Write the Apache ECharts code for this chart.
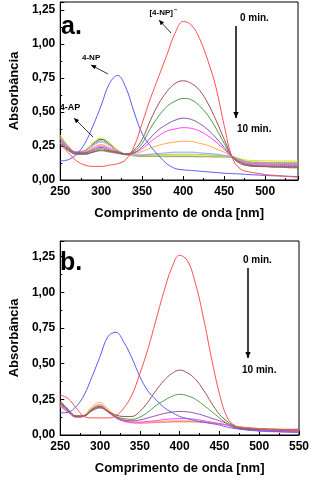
<!DOCTYPE html>
<html><head><meta charset="utf-8">
<script src="https://cdn.jsdelivr.net/npm/echarts@6/dist/echarts.min.js"></script>
<style>html,body{margin:0;padding:0;background:#fff}#c{width:313px;height:482px}</style>
</head><body><div id="c"></div>
<script>
// ---------- Panel a data ----------
const wlA = [250,260,270,280,290,300,310,320,330,340,350,360,370,380,390,400,410,420,430,440,450,460,470,480,490,500,510,520,530,540];
const a_red     = [.26,.20,.14,.11,.10,.10,.11,.12,.15,.245,.42,.60,.76,.92,1.08,1.167,1.14,1.04,.88,.68,.40,.16,.08,.06,.05,.04,.035,.03,.025,.02];
const a_blue    = [.14,.15,.19,.27,.40,.55,.71,.77,.68,.50,.34,.25,.18,.12,.085,.075,.07,.065,.06,.055,.05,.047,.044,.04,.037,.034,.031,.029,.027,.025];
const a_brown   = [.27,.22,.19,.19,.205,.22,.21,.20,.19,.22,.30,.44,.56,.65,.71,.73,.71,.66,.565,.44,.30,.17,.12,.105,.10,.10,.095,.095,.09,.09];
const a_green   = [.28,.225,.195,.195,.21,.23,.215,.205,.19,.21,.27,.38,.47,.54,.58,.60,.59,.545,.475,.38,.27,.17,.125,.105,.10,.098,.096,.095,.095,.094];
const a_purple  = [.29,.23,.20,.20,.22,.24,.22,.205,.19,.20,.245,.31,.37,.41,.44,.455,.445,.415,.37,.31,.24,.17,.13,.11,.105,.103,.102,.10,.10,.10];
const a_magenta = [.30,.235,.205,.205,.23,.25,.23,.21,.19,.20,.23,.28,.325,.36,.375,.385,.38,.36,.325,.28,.225,.17,.135,.12,.118,.116,.115,.114,.113,.112];
const a_orange  = [.31,.24,.205,.21,.24,.26,.24,.215,.19,.195,.21,.235,.255,.27,.28,.285,.283,.27,.255,.23,.205,.17,.14,.125,.122,.12,.12,.118,.118,.117];
const a_lavender= [.32,.245,.205,.215,.255,.28,.255,.215,.19,.185,.185,.19,.195,.20,.205,.205,.205,.20,.195,.19,.18,.17,.145,.13,.128,.126,.125,.124,.124,.123];
const a_lime    = [.32,.245,.205,.215,.26,.29,.26,.215,.19,.183,.182,.184,.186,.188,.19,.19,.19,.188,.185,.182,.178,.17,.15,.135,.132,.13,.13,.13,.13,.13];
const a_yellow  = [.33,.25,.205,.22,.275,.31,.275,.22,.19,.18,.178,.177,.177,.177,.178,.178,.178,.177,.176,.175,.173,.17,.155,.145,.143,.142,.141,.14,.14,.14];
const a_grey    = [.27,.215,.19,.19,.205,.215,.205,.195,.185,.178,.175,.174,.173,.172,.172,.172,.172,.171,.171,.17,.17,.168,.14,.115,.112,.11,.108,.107,.106,.105];
const a_navy    = [.31,.24,.205,.215,.265,.30,.265,.215,.19,.18,.176,.175,.174,.174,.174,.174,.174,.173,.173,.172,.172,.17,.15,.13,.127,.126,.125,.124,.123,.122];

// ---------- Panel b data ----------
const wlB = [250,260,270,280,290,300,310,320,330,340,350,360,370,380,390,400,410,420,430,440,450,460,470,480,490,500,510,520,530,540,550];
const b_red     = [.28,.255,.19,.13,.12,.12,.12,.135,.19,.28,.43,.60,.80,1.0,1.17,1.26,1.22,1.06,.82,.54,.29,.12,.065,.055,.05,.045,.04,.037,.035,.033,.03];
const b_blue    = [.155,.16,.20,.28,.41,.55,.69,.72,.65,.54,.41,.31,.25,.195,.16,.13,.115,.10,.09,.08,.07,.055,.045,.038,.033,.03,.027,.025,.022,.02,.018];
const b_brown   = [.24,.18,.135,.135,.17,.19,.165,.14,.13,.13,.165,.23,.31,.38,.43,.455,.435,.39,.315,.225,.145,.095,.06,.05,.045,.045,.043,.042,.04,.04,.04];
const b_green   = [.23,.175,.13,.135,.175,.195,.165,.13,.115,.11,.125,.16,.205,.24,.27,.285,.275,.25,.21,.165,.12,.08,.055,.045,.04,.04,.038,.037,.036,.035,.035];
const b_purple  = [.22,.17,.13,.135,.18,.20,.165,.125,.105,.10,.105,.12,.135,.15,.16,.165,.162,.152,.137,.118,.10,.08,.055,.045,.04,.037,.035,.033,.032,.03,.03];
const b_magenta = [.21,.16,.125,.13,.18,.20,.16,.12,.10,.09,.09,.095,.10,.108,.113,.115,.114,.11,.10,.09,.08,.07,.05,.04,.035,.03,.028,.027,.026,.025,.025];
const b_orange  = [.20,.16,.125,.135,.19,.215,.175,.125,.10,.09,.088,.09,.093,.096,.099,.10,.10,.098,.094,.088,.08,.07,.055,.045,.04,.037,.035,.033,.032,.031,.03];
const b_pink    = [.215,.165,.125,.13,.185,.21,.17,.12,.095,.085,.083,.085,.088,.09,.093,.095,.095,.093,.09,.085,.078,.068,.05,.04,.032,.027,.024,.022,.021,.02,.02];
const b_yellow  = [.20,.16,.13,.14,.20,.23,.185,.13,.10,.088,.085,.085,.087,.088,.09,.09,.09,.089,.087,.083,.077,.068,.055,.045,.04,.036,.034,.032,.031,.03,.03];

const seriesA = [
  ['#ff5050',a_red],['#5a5aff',a_blue],['#a05050',a_brown],['#44a044',a_green],['#9050a8',a_purple],
  ['#ff40ff',a_magenta],['#ffa848',a_orange],['#a890ff',a_lavender],['#78dc60',a_lime],['#e6e600',a_yellow],
  ['#909090',a_grey],['#404890',a_navy]
];
const seriesB = [
  ['#ff5050',b_red],['#5a5aff',b_blue],['#a05050',b_brown],['#44a044',b_green],['#9050a8',b_purple],
  ['#ff40ff',b_magenta],['#ffb050',b_orange],['#ff70c0',b_pink],['#f0c070',b_yellow]
];

const FONT = 'Liberation Sans, Arial, sans-serif';

function xAxis(idx, max, showMax) {
  return {
    type:'value', gridIndex:idx, min:250, max:max, interval:50,
    name:'Comprimento de onda [nm]', nameLocation:'middle', nameGap:27,
    nameTextStyle:{fontFamily:FONT, fontWeight:'bold', fontSize:13, color:'#000'},
    axisLine:{show:true, onZero:false, lineStyle:{color:'#000', width:1}},
    axisTick:{show:true, inside:true, length:4, lineStyle:{color:'#000'}},
    minorTick:{show:true, splitNumber:2, length:2, lineStyle:{color:'#000'}},
    axisLabel:{fontFamily:FONT, fontWeight:'bold', fontSize:12, color:'#000', margin:6, showMaxLabel:showMax,
      formatter: v => (v%50===0 ? String(v) : '')},
    splitLine:{show:false}
  };
}
function yAxis(idx, max) {
  return {
    type:'value', gridIndex:idx, min:0, max:max, interval:0.25,
    name:'Absorbância', nameLocation:'middle', nameGap:38,
    nameTextStyle:{fontFamily:FONT, fontWeight:'bold', fontSize:13, color:'#000'},
    axisLine:{show:true, lineStyle:{color:'#000', width:1}},
    axisTick:{show:true, inside:true, length:4, lineStyle:{color:'#000'}},
    minorTick:{show:true, splitNumber:2, length:2, lineStyle:{color:'#000'}},
    axisLabel:{fontFamily:FONT, fontWeight:'bold', fontSize:12, color:'#000', margin:5, showMaxLabel:false,
      formatter: v => (v>1.26 ? '' : v.toFixed(2).replace('.', ','))},
    splitLine:{show:false}
  };
}

const series = [];
seriesA.forEach(([c,vals]) => series.push({
  type:'line', xAxisIndex:0, yAxisIndex:0, smooth:0.4, showSymbol:false, silent:true,
  lineStyle:{color:c, width:1}, data: wlA.map((w,i)=>[w, vals[i]])
}));
seriesB.forEach(([c,vals]) => series.push({
  type:'line', xAxisIndex:1, yAxisIndex:1, smooth:0.4, showSymbol:false, silent:true,
  lineStyle:{color:c, width:1}, data: wlB.map((w,i)=>[w, vals[i]])
}));
series.reverse();

function arrowHead(x, y, dx, dy, size) {
  const L = Math.hypot(dx, dy), ux = dx/L, uy = dy/L;
  const px = -uy, py = ux;
  return {type:'polygon', z:100, shape:{points:[[x,y],[x-ux*size+px*size*0.45, y-uy*size+py*size*0.45],[x-ux*size-px*size*0.45, y-uy*size-py*size*0.45]]}, style:{fill:'#000'}};
}
function arrow(x1,y1,x2,y2,size,w) {
  return [
    {type:'line', z:100, shape:{x1:x1,y1:y1,x2:x2,y2:y2}, style:{stroke:'#000', lineWidth:w||1}},
    arrowHead(x2,y2,x2-x1,y2-y1,size)
  ];
}
function txt(x,y,t,size,align) {
  return {type:'text', z:100, x:x, y:y, style:{text:t, font:'bold '+size+'px '+FONT, fill:'#000', textAlign:align||'left', textVerticalAlign:'middle'}};
}

const graphics = [
  txt(61,27,'a.',25), txt(60,263,'b.',25),
  txt(240,18,'0 min.',10), txt(237,129,'10 min.',10),
  ...arrow(236,26,236,118,6,1.5),
  txt(243,260,'0 min.',10), txt(242,370,'10 min.',10),
  ...arrow(248,268,248,358,6,1.5),
  txt(82,58,'4-NP',8), ...arrow(108,74,91,65,5,0.8),
  txt(70,108,'4-AP',9,'center'), ...arrow(93,137,74,118,5,0.8),
  txt(173,13,'[4-NP]',8,'right'), txt(174,10,'\u2212',6),
  ...arrow(171,33,159,20,5,0.8)
];

const chart = echarts.init(document.getElementById('c'), null, {renderer:'canvas'});
chart.setOption({
  animation:false,
  backgroundColor:'#fff',
  grid:[
    {left:53, top:2, width:245, height:178, show:true, borderColor:'#000', borderWidth:1, backgroundColor:'transparent'},
    {left:54, top:241, width:245, height:194, show:true, borderColor:'#000', borderWidth:1, backgroundColor:'transparent'}
  ],
  xAxis:[xAxis(0,540,false), xAxis(1,550,true)],
  yAxis:[yAxis(0,1.31), yAxis(1,1.36)],
  series: series,
  graphic: graphics
});
</script></body></html>
